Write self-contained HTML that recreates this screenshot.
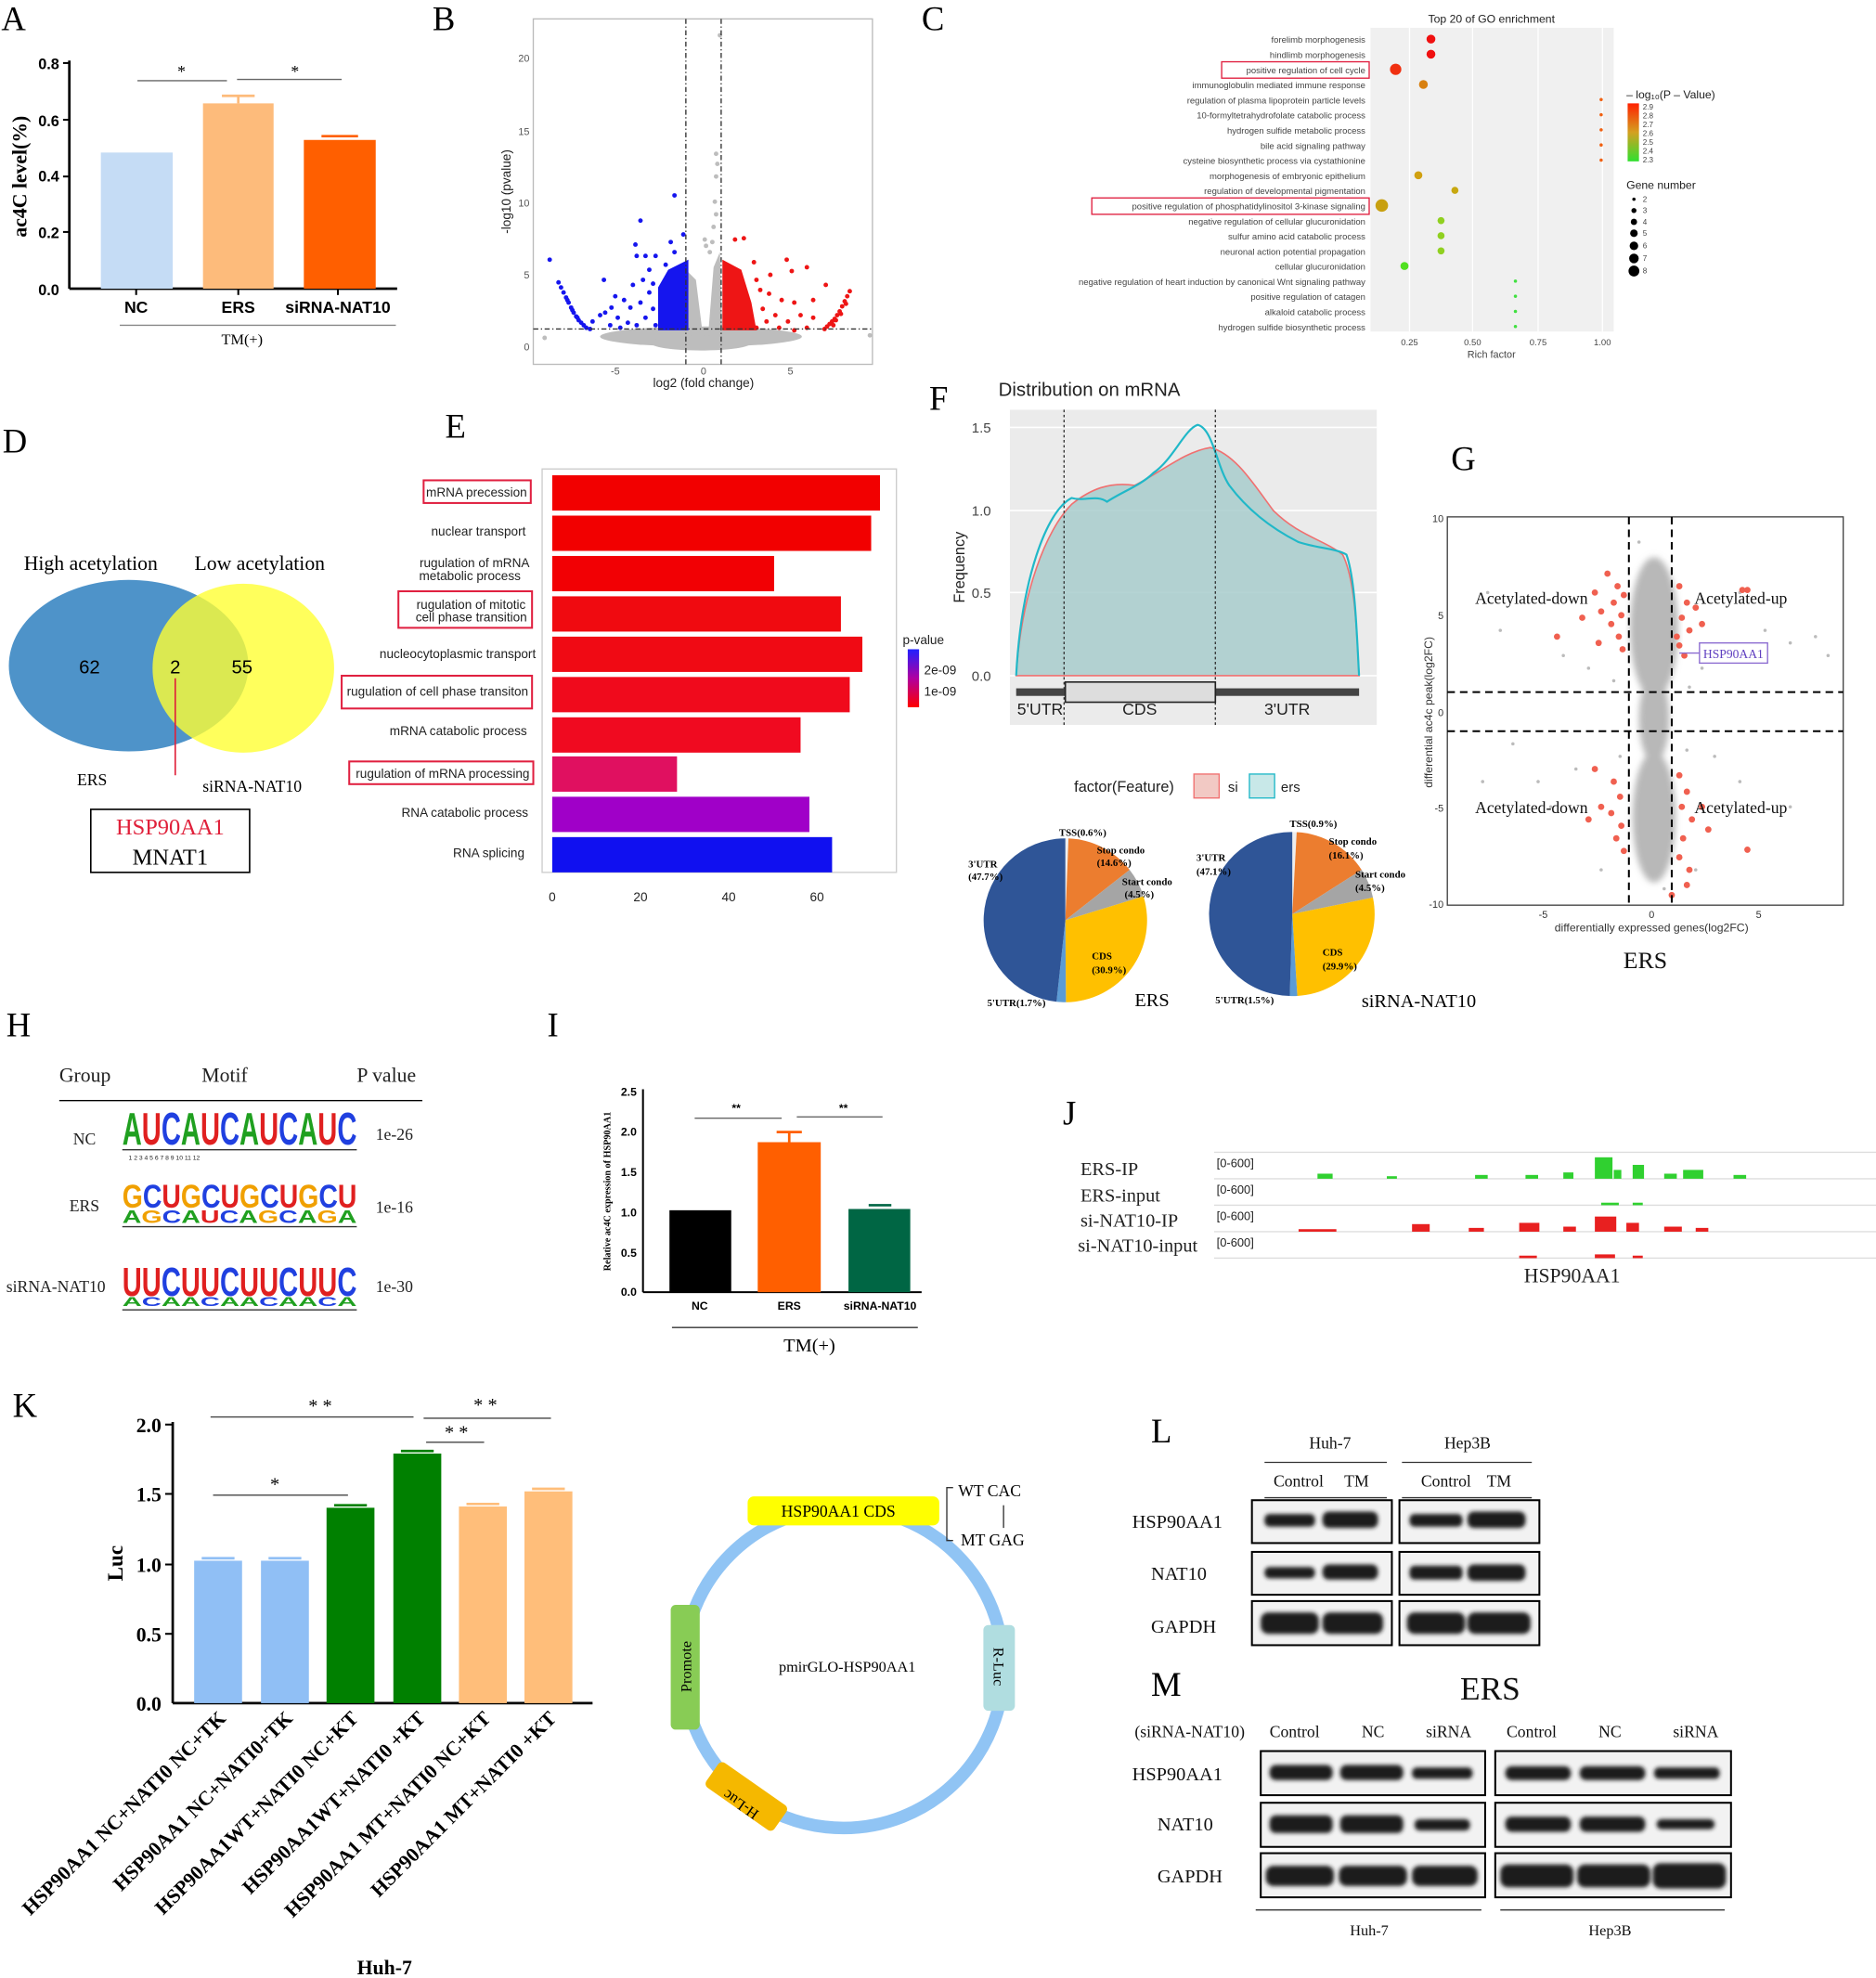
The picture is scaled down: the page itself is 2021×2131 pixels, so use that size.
<!DOCTYPE html>
<html><head><meta charset="utf-8"><style>
html,body{margin:0;padding:0;background:#fff;}
svg{display:block}
.s{font-family:"Liberation Serif",serif}
.a{font-family:"Liberation Sans",sans-serif}
</style></head><body>
<svg width="2021" height="2131" viewBox="0 0 1488 1569" xmlns="http://www.w3.org/2000/svg">
<defs>
<linearGradient id="gr" x1="0" y1="0" x2="0" y2="1"><stop offset="0" stop-color="#ff2000"/><stop offset="0.5" stop-color="#d4a020"/><stop offset="1" stop-color="#30e030"/></linearGradient>
<linearGradient id="gp" x1="0" y1="0" x2="0" y2="1"><stop offset="0" stop-color="#2020ff"/><stop offset="0.5" stop-color="#b000a0"/><stop offset="1" stop-color="#ff0000"/></linearGradient>
<filter id="bl"><feGaussianBlur stdDeviation="1.5"/></filter>
<filter id="bl2"><feGaussianBlur stdDeviation="2.5"/></filter>
</defs>
<rect width="1488" height="1569" fill="#fff"/>
<g class="s" font-size="27">
<text x="1" y="24">A</text><text x="343" y="24">B</text><text x="731" y="24">C</text>
<text x="2" y="359">D</text><text x="353" y="347">E</text><text x="737" y="325">F</text><text x="1151" y="373">G</text>
<text x="5" y="822">H</text><text x="434" y="822">I</text><text x="843" y="892">J</text>
<text x="10" y="1124">K</text><text x="913" y="1144">L</text><text x="913" y="1345">M</text>
</g>

<!-- A -->
<g>
<line x1="55" y1="48" x2="55" y2="229" stroke="#000" stroke-width="2"/>
<line x1="55" y1="229" x2="315" y2="229" stroke="#000" stroke-width="2"/>
<g stroke="#000" stroke-width="1.5"><line x1="50" y1="50" x2="55" y2="50"/><line x1="50" y1="95" x2="55" y2="95"/><line x1="50" y1="140" x2="55" y2="140"/><line x1="50" y1="184" x2="55" y2="184"/><line x1="108" y1="229" x2="108" y2="234"/><line x1="189" y1="229" x2="189" y2="234"/><line x1="268" y1="229" x2="268" y2="234"/></g>
<g class="a" font-size="12" font-weight="bold" text-anchor="end">
<text x="47" y="234">0.0</text><text x="47" y="189">0.2</text><text x="47" y="144">0.4</text><text x="47" y="100">0.6</text><text x="47" y="55">0.8</text></g>
<rect x="80" y="121" width="57" height="108" fill="#c5dcf5"/>
<rect x="161" y="82" width="56" height="147" fill="#fdbb7b"/>
<line x1="189" y1="82" x2="189" y2="76" stroke="#fdbb7b" stroke-width="2"/><line x1="176" y1="76" x2="202" y2="76" stroke="#fdbb7b" stroke-width="2"/>
<rect x="241" y="111" width="57" height="118" fill="#ff5f00"/>
<line x1="255" y1="108" x2="284" y2="108" stroke="#ff5f00" stroke-width="2"/>
<g class="a" font-size="13" font-weight="bold" text-anchor="middle"><text x="108" y="248">NC</text><text x="189" y="248">ERS</text><text x="268" y="248">siRNA-NAT10</text></g>
<line x1="95" y1="258" x2="314" y2="258" stroke="#888"/>
<text class="s" x="192" y="273" font-size="12" text-anchor="middle">TM(+)</text>
<line x1="109" y1="64" x2="180" y2="64" stroke="#666"/><line x1="188" y1="63" x2="271" y2="63" stroke="#666"/>
<text x="144" y="61" font-size="13" text-anchor="middle">*</text><text x="234" y="61" font-size="13" text-anchor="middle">*</text>
<text class="s" transform="translate(21,140) rotate(-90)" font-size="16" font-weight="bold" text-anchor="middle">ac4C level(%)</text>
</g>

<!-- B -->
<g class="a" font-size="8" fill="#555">
<rect x="423" y="15" width="269" height="274" fill="#fff" stroke="#bbb"/>
<g fill="#bdbdbd">
<ellipse cx="556" cy="267" rx="80" ry="8"/>
<ellipse cx="556" cy="272" rx="40" ry="6"/>
<path d="M544,264 L545,215 L552,222 L557,262 L562,262 L566,212 L571,200 L573,264 Z"/>
<circle cx="571" cy="28" r="1.8"/><circle cx="568" cy="122" r="1.8"/><circle cx="569" cy="130" r="1.8"/><circle cx="568" cy="140" r="1.8"/><circle cx="567" cy="160" r="1.8"/><circle cx="568" cy="170" r="1.8"/><circle cx="566" cy="180" r="1.8"/><circle cx="559" cy="190" r="1.8"/><circle cx="560" cy="195" r="1.8"/><circle cx="563" cy="200" r="1.8"/><circle cx="565" cy="192" r="1.8"/><circle cx="432" cy="268" r="1.8"/><circle cx="690" cy="266" r="1.8"/>
</g>
<path d="M522,262 L522,228 L530,214 L546,206 L546,262 Z" fill="#1515ee"/>
<path d="M573,206 L588,214 L596,240 L600,262 L573,262 Z" fill="#ee1515"/>
<g fill="#1515ee">
<circle cx="436" cy="206" r="1.8"/><circle cx="443" cy="224" r="1.8"/><circle cx="445" cy="228" r="1.8"/><circle cx="447" cy="232" r="1.8"/><circle cx="449" cy="236" r="1.8"/><circle cx="451" cy="240" r="1.8"/><circle cx="453" cy="244" r="1.8"/><circle cx="455" cy="248" r="1.8"/><circle cx="457" cy="251" r="1.8"/><circle cx="459" cy="254" r="1.8"/><circle cx="461" cy="256" r="1.8"/><circle cx="463" cy="258" r="1.8"/><circle cx="465" cy="260" r="1.8"/><circle cx="450" cy="238" r="1.8"/><circle cx="454" cy="246" r="1.8"/><circle cx="458" cy="252" r="1.8"/><circle cx="468" cy="261" r="1.8"/>
<circle cx="479" cy="222" r="1.8"/><circle cx="535" cy="155" r="1.8"/><circle cx="508" cy="175" r="1.8"/><circle cx="504" cy="194" r="1.8"/><circle cx="532" cy="192" r="1.8"/><circle cx="542" cy="186" r="1.8"/><circle cx="505" cy="203" r="1.8"/><circle cx="512" cy="203" r="1.8"/><circle cx="520" cy="203" r="1.8"/><circle cx="528" cy="210" r="1.8"/><circle cx="535" cy="200" r="1.8"/><circle cx="488" cy="235" r="1.8"/><circle cx="495" cy="238" r="1.8"/><circle cx="500" cy="244" r="1.8"/><circle cx="508" cy="240" r="1.8"/><circle cx="515" cy="232" r="1.8"/><circle cx="480" cy="248" r="1.8"/><circle cx="490" cy="252" r="1.8"/><circle cx="498" cy="256" r="1.8"/><circle cx="470" cy="255" r="1.8"/><circle cx="476" cy="250" r="1.8"/><circle cx="485" cy="244" r="1.8"/><circle cx="518" cy="225" r="1.8"/><circle cx="510" cy="222" r="1.8"/><circle cx="502" cy="226" r="1.8"/><circle cx="484" cy="258" r="1.8"/><circle cx="492" cy="260" r="1.8"/><circle cx="505" cy="258" r="1.8"/><circle cx="512" cy="252" r="1.8"/><circle cx="518" cy="245" r="1.8"/><circle cx="520" cy="258" r="1.8"/><circle cx="515" cy="214" r="1.8"/>
</g>
<g fill="#ee1515">
<circle cx="674" cy="231" r="1.8"/><circle cx="672" cy="235" r="1.8"/><circle cx="670" cy="239" r="1.8"/><circle cx="668" cy="243" r="1.8"/><circle cx="666" cy="247" r="1.8"/><circle cx="664" cy="250" r="1.8"/><circle cx="662" cy="253" r="1.8"/><circle cx="660" cy="255" r="1.8"/><circle cx="658" cy="257" r="1.8"/><circle cx="656" cy="259" r="1.8"/><circle cx="654" cy="261" r="1.8"/><circle cx="671" cy="241" r="1.8"/><circle cx="667" cy="249" r="1.8"/><circle cx="663" cy="254" r="1.8"/><circle cx="661" cy="258" r="1.8"/>
<circle cx="583" cy="190" r="1.8"/><circle cx="590" cy="189" r="1.8"/><circle cx="611" cy="218" r="1.8"/><circle cx="624" cy="206" r="1.8"/><circle cx="640" cy="212" r="1.8"/><circle cx="628" cy="215" r="1.8"/><circle cx="655" cy="226" r="1.8"/><circle cx="610" cy="233" r="1.8"/><circle cx="620" cy="238" r="1.8"/><circle cx="600" cy="222" r="1.8"/><circle cx="615" cy="250" r="1.8"/><circle cx="625" cy="255" r="1.8"/><circle cx="635" cy="250" r="1.8"/><circle cx="645" cy="252" r="1.8"/><circle cx="605" cy="245" r="1.8"/><circle cx="640" cy="260" r="1.8"/><circle cx="645" cy="238" r="1.8"/><circle cx="600" cy="260" r="1.8"/><circle cx="630" cy="262" r="1.8"/><circle cx="618" cy="260" r="1.8"/><circle cx="608" cy="255" r="1.8"/><circle cx="630" cy="240" r="1.8"/><circle cx="598" cy="208" r="1.8"/><circle cx="603" cy="230" r="1.8"/>
</g>
<line x1="544" y1="15" x2="544" y2="289" stroke="#333" stroke-dasharray="4,2,1,2"/>
<line x1="572" y1="15" x2="572" y2="289" stroke="#333" stroke-dasharray="4,2,1,2"/>
<line x1="423" y1="261" x2="692" y2="261" stroke="#333" stroke-dasharray="4,2,1,2"/>
<text x="420" y="49" text-anchor="end">20</text><text x="420" y="107" text-anchor="end">15</text><text x="420" y="164" text-anchor="end">10</text><text x="420" y="221" text-anchor="end">5</text><text x="420" y="278" text-anchor="end">0</text>
<text x="488" y="297" text-anchor="middle">-5</text><text x="558" y="297" text-anchor="middle">0</text><text x="627" y="297" text-anchor="middle">5</text>
<text x="558" y="307" text-anchor="middle" font-size="10" fill="#222">log2 (fold change)</text>
<text transform="translate(405,152) rotate(-90)" text-anchor="middle" font-size="10" fill="#222">-log10 (pvalue)</text>
</g>

<!-- C -->
<g class="a" font-size="7" fill="#444">
<rect x="1087" y="22" width="193" height="241" fill="#f0f0f0"/>
<g stroke="#fff"><line x1="1118" y1="22" x2="1118" y2="263"/><line x1="1168" y1="22" x2="1168" y2="263"/><line x1="1220" y1="22" x2="1220" y2="263"/><line x1="1271" y1="22" x2="1271" y2="263"/></g>
<text x="1183" y="18" text-anchor="middle" font-size="9" fill="#222">Top 20 of GO enrichment</text>
<g text-anchor="end">
<text x="1083" y="34">forelimb morphogenesis</text><text x="1083" y="46">hindlimb morphogenesis</text><text x="1083" y="58">positive regulation of cell cycle</text><text x="1083" y="70">immunoglobulin mediated immune response</text><text x="1083" y="82">regulation of plasma lipoprotein particle levels</text><text x="1083" y="94">10-formyltetrahydrofolate catabolic process</text><text x="1083" y="106">hydrogen sulfide metabolic process</text><text x="1083" y="118">bile acid signaling pathway</text><text x="1083" y="130">cysteine biosynthetic process via cystathionine</text><text x="1083" y="142">morphogenesis of embryonic epithelium</text><text x="1083" y="154">regulation of developmental pigmentation</text><text x="1083" y="166">positive regulation of phosphatidylinositol 3-kinase signaling</text><text x="1083" y="178">negative regulation of cellular glucuronidation</text><text x="1083" y="190">sulfur amino acid catabolic process</text><text x="1083" y="202">neuronal action potential propagation</text><text x="1083" y="214">cellular glucuronidation</text><text x="1083" y="226">negative regulation of heart induction by canonical Wnt signaling pathway</text><text x="1083" y="238">positive regulation of catagen</text><text x="1083" y="250">alkaloid catabolic process</text><text x="1083" y="262">hydrogen sulfide biosynthetic process</text>
</g>
<rect x="969" y="49" width="117" height="13" fill="none" stroke="#e02040"/>
<rect x="866" y="157" width="220" height="13" fill="none" stroke="#e02040"/>
<circle cx="1135" cy="31" r="3.5" fill="#f01010"/><circle cx="1135" cy="43" r="3.5" fill="#f01010"/><circle cx="1107" cy="55" r="4.5" fill="#f03010"/><circle cx="1129" cy="67" r="3.5" fill="#d88010"/>
<circle cx="1270" cy="79" r="1.3" fill="#f06010"/><circle cx="1270" cy="91" r="1.3" fill="#f06010"/><circle cx="1270" cy="103" r="1.3" fill="#f06010"/><circle cx="1270" cy="115" r="1.3" fill="#f06010"/><circle cx="1270" cy="127" r="1.3" fill="#f06010"/>
<circle cx="1125" cy="139" r="3.2" fill="#d0a010"/><circle cx="1154" cy="151" r="2.8" fill="#c8a810"/><circle cx="1096" cy="163" r="5" fill="#c8a010"/>
<circle cx="1143" cy="175" r="2.8" fill="#90d020"/><circle cx="1143" cy="187" r="2.8" fill="#90d020"/><circle cx="1143" cy="199" r="2.8" fill="#90d020"/><circle cx="1114" cy="211" r="3.2" fill="#50e020"/>
<circle cx="1202" cy="223" r="1.3" fill="#40e040"/><circle cx="1202" cy="235" r="1.3" fill="#40e040"/><circle cx="1202" cy="247" r="1.3" fill="#40e040"/><circle cx="1202" cy="259" r="1.3" fill="#40e040"/>
<text x="1118" y="274" text-anchor="middle">0.25</text><text x="1168" y="274" text-anchor="middle">0.50</text><text x="1220" y="274" text-anchor="middle">0.75</text><text x="1271" y="274" text-anchor="middle">1.00</text>
<text x="1183" y="284" text-anchor="middle" font-size="8">Rich factor</text>
<text x="1290" y="78" font-size="9" fill="#222">– log₁₀(P – Value)</text>
<rect x="1291" y="82" width="9" height="46" fill="url(#gr)"/>
<g font-size="6"><text x="1303" y="87">2.9</text><text x="1303" y="94">2.8</text><text x="1303" y="101">2.7</text><text x="1303" y="108">2.6</text><text x="1303" y="115">2.5</text><text x="1303" y="122">2.4</text><text x="1303" y="129">2.3</text></g>
<text x="1290" y="150" font-size="9" fill="#222">Gene number</text>
<g fill="#000"><circle cx="1296" cy="158" r="1.3"/><circle cx="1296" cy="167" r="2"/><circle cx="1296" cy="176" r="2.5"/><circle cx="1296" cy="185" r="3"/><circle cx="1296" cy="195" r="3.4"/><circle cx="1296" cy="205" r="3.8"/><circle cx="1296" cy="215" r="4.3"/></g>
<g font-size="6"><text x="1303" y="160">2</text><text x="1303" y="169">3</text><text x="1303" y="178">4</text><text x="1303" y="187">5</text><text x="1303" y="197">6</text><text x="1303" y="207">7</text><text x="1303" y="217">8</text></g>
</g>

<!-- D -->
<g class="s">
<ellipse cx="102" cy="528" rx="95" ry="68" fill="#4e93c9"/>
<ellipse cx="193" cy="530" rx="72" ry="67" fill="#ffff33" fill-opacity="0.8"/>
<text x="72" y="452" font-size="16" text-anchor="middle">High acetylation</text>
<text x="206" y="452" font-size="16" text-anchor="middle">Low acetylation</text>
<text class="a" x="71" y="534" font-size="15" text-anchor="middle">62</text>
<text class="a" x="139" y="534" font-size="15" text-anchor="middle">2</text>
<text class="a" x="192" y="534" font-size="15" text-anchor="middle">55</text>
<text x="73" y="623" font-size="13" text-anchor="middle">ERS</text>
<text x="200" y="628" font-size="13" text-anchor="middle">siRNA-NAT10</text>
<line x1="139" y1="538" x2="139" y2="615" stroke="#e0203a" stroke-width="1.2"/>
<rect x="72" y="642" width="126" height="50" fill="none" stroke="#000" stroke-width="1.2"/>
<text x="135" y="662" font-size="18" fill="#e0203a" text-anchor="middle">HSP90AA1</text>
<text x="135" y="686" font-size="18" text-anchor="middle">MNAT1</text>
</g>

<!-- E -->
<g class="a" font-size="10" fill="#222">
<rect x="430" y="372" width="281" height="320" fill="#fff" stroke="#ccc"/>
<rect x="438" y="377" width="260" height="28" fill="#f20000"/>
<rect x="438" y="409" width="253" height="28" fill="#f20000"/>
<rect x="438" y="441" width="176" height="28" fill="#f20004"/>
<rect x="438" y="473" width="229" height="28" fill="#f00a10"/>
<rect x="438" y="505" width="246" height="28" fill="#f00a14"/>
<rect x="438" y="537" width="236" height="28" fill="#f00a1c"/>
<rect x="438" y="569" width="197" height="28" fill="#f00a20"/>
<rect x="438" y="600" width="99" height="28" fill="#e01060"/>
<rect x="438" y="632" width="204" height="28" fill="#a000c8"/>
<rect x="438" y="664" width="222" height="28" fill="#1010f0"/>
<g text-anchor="end">
<text x="418" y="394">mRNA precession</text><text x="417" y="425">nuclear transport</text><text x="420" y="450">rugulation of mRNA</text><text x="413" y="460">metabolic process</text>
<text x="417" y="483">rugulation of mitotic</text><text x="418" y="493">cell phase transition</text><text x="425" y="522">nucleocytoplasmic transport</text>
<text x="419" y="552">rugulation of cell phase transiton</text><text x="418" y="583">mRNA catabolic process</text><text x="420" y="617">rugulation of mRNA processing</text>
<text x="419" y="648">RNA catabolic process</text><text x="416" y="680">RNA splicing</text></g>
<g fill="none" stroke="#e02040" stroke-width="1.5"><rect x="336" y="381" width="85" height="18"/><rect x="316" y="469" width="106" height="29"/><rect x="271" y="536" width="151" height="26"/><rect x="277" y="604" width="146" height="18"/></g>
<text x="438" y="715" text-anchor="middle">0</text><text x="508" y="715" text-anchor="middle">20</text><text x="578" y="715" text-anchor="middle">40</text><text x="648" y="715" text-anchor="middle">60</text>
<text x="716" y="511">p-value</text>
<rect x="720" y="515" width="9" height="46" fill="url(#gp)"/>
<text x="733" y="535">2e-09</text><text x="733" y="552">1e-09</text>
</g>

<!-- F -->
<g class="a" font-size="11" fill="#222">
<text x="792" y="314" font-size="15">Distribution on mRNA</text>
<rect x="801" y="325" width="291" height="250" fill="#ebebeb"/>
<g stroke="#fff" stroke-width="1.2"><line x1="801" y1="339" x2="1092" y2="339"/><line x1="801" y1="405" x2="1092" y2="405"/><line x1="801" y1="470" x2="1092" y2="470"/><line x1="801" y1="536" x2="1092" y2="536"/></g>
<path d="M806,536 C810,470 830,420 850,400 C865,388 880,382 900,385 C920,375 940,358 960,355 C980,360 995,385 1010,405 C1030,425 1050,428 1065,440 C1075,460 1076,500 1078,536 Z" fill="#a8cccc" fill-opacity="0.85" stroke="#f07070" stroke-width="1.2"/>
<path d="M806,536 C810,460 830,405 850,395 C860,398 870,392 878,398 C890,390 905,385 915,375 C930,365 940,340 950,337 C962,340 965,370 975,385 C990,405 1010,420 1030,430 C1045,435 1060,435 1068,440 C1075,460 1076,500 1078,536" fill="none" stroke="#20b8c8" stroke-width="1.6"/>
<line x1="844" y1="325" x2="844" y2="575" stroke="#333" stroke-dasharray="2,2"/>
<line x1="964" y1="325" x2="964" y2="575" stroke="#333" stroke-dasharray="2,2"/>
<rect x="806" y="546" width="272" height="6" fill="#444"/>
<rect x="845" y="541" width="119" height="16" fill="#ddd" stroke="#222" stroke-width="1.2"/>
<text x="825" y="567" font-size="13" text-anchor="middle">5'UTR</text><text x="904" y="567" font-size="13" text-anchor="middle">CDS</text><text x="1021" y="567" font-size="13" text-anchor="middle">3'UTR</text>
<g text-anchor="end" fill="#444"><text x="786" y="343">1.5</text><text x="786" y="409">1.0</text><text x="786" y="474">0.5</text><text x="786" y="540">0.0</text></g>
<text transform="translate(765,450) rotate(-90)" text-anchor="middle" font-size="12">Frequency</text>
<text x="852" y="628" font-size="12">factor(Feature)</text>
<rect x="947" y="614" width="20" height="19" fill="#f2c9c4" stroke="#f07070"/><text x="974" y="628">si</text>
<rect x="991" y="614" width="20" height="19" fill="#c8e8e8" stroke="#20b8c8"/><text x="1016" y="628">ers</text>
</g>
<!-- pies -->
<g>
<path d="M845,730 L845,665 A65,65 0 0 1 847.5,665.05 Z" fill="#eee"/>
<path d="M845,730 L847.5,665.05 A65,65 0 0 1 896,690 Z" fill="#ec7d2f"/>
<path d="M845,730 L896,690 A65,65 0 0 1 907,711 Z" fill="#a5a5a5"/>
<path d="M845,730 L907,711 A65,65 0 0 1 845.5,795 Z" fill="#ffc000"/>
<path d="M845,730 L845.5,795 A65,65 0 0 1 838,794.6 Z" fill="#5b9bd5"/>
<path d="M845,730 L838,794.6 A65,65 0 0 1 845,665 Z" fill="#2f5597"/>
<path d="M1025,725 L1025,660 A65,65 0 0 1 1028.5,660.1 Z" fill="#eee"/>
<path d="M1025,725 L1028.5,660.1 A65,65 0 0 1 1080,690 Z" fill="#ec7d2f"/>
<path d="M1025,725 L1080,690 A65,65 0 0 1 1089,712 Z" fill="#a5a5a5"/>
<path d="M1025,725 L1089,712 A65,65 0 0 1 1029,790 Z" fill="#ffc000"/>
<path d="M1025,725 L1029,790 A65,65 0 0 1 1023,790 Z" fill="#5b9bd5"/>
<path d="M1025,725 L1023,790 A65,65 0 0 1 1025,660 Z" fill="#2f5597"/>
<g class="s" font-size="8" font-weight="bold">
<text x="840" y="663">TSS(0.6%)</text><text x="870" y="677">Stop condo</text><text x="870" y="687">(14.6%)</text><text x="890" y="702">Start condo</text><text x="892" y="712">(4.5%)</text><text x="866" y="761">CDS</text><text x="866" y="772">(30.9%)</text><text x="768" y="688">3'UTR</text><text x="768" y="698">(47.7%)</text><text x="783" y="798">5'UTR(1.7%)</text>
<text x="1023" y="656">TSS(0.9%)</text><text x="1054" y="670">Stop condo</text><text x="1054" y="681">(16.1%)</text><text x="1075" y="696">Start condo</text><text x="1075" y="707">(4.5%)</text><text x="1049" y="758">CDS</text><text x="1049" y="769">(29.9%)</text><text x="949" y="683">3'UTR</text><text x="949" y="694">(47.1%)</text><text x="964" y="796">5'UTR(1.5%)</text>
</g>
</g>
<g class="s" font-size="15"><text x="900" y="798">ERS</text><text x="1080" y="799">siRNA-NAT10</text></g>

<!-- G -->
<g class="a" font-size="8" fill="#333">
<rect x="1148" y="410" width="314" height="308" fill="#fff" stroke="#444"/>
<g fill="#b8b8b8" filter="url(#bl2)">
<ellipse cx="1312" cy="498" rx="19" ry="56"/>
<ellipse cx="1312" cy="570" rx="12" ry="35"/>
<ellipse cx="1312" cy="648" rx="17" ry="52"/>
</g>
<g fill="#bbb"><circle cx="1190" cy="500" r="1.3"/><circle cx="1200" cy="590" r="1.3"/><circle cx="1220" cy="620" r="1.3"/><circle cx="1240" cy="520" r="1.3"/><circle cx="1400" cy="500" r="1.3"/><circle cx="1420" cy="510" r="1.3"/><circle cx="1440" cy="505" r="1.3"/><circle cx="1380" cy="620" r="1.3"/><circle cx="1360" cy="600" r="1.3"/><circle cx="1250" cy="610" r="1.3"/><circle cx="1380" cy="470" r="1.3"/><circle cx="1230" cy="640" r="1.3"/><circle cx="1420" cy="640" r="1.3"/><circle cx="1260" cy="530" r="1.3"/><circle cx="1350" cy="530" r="1.3"/><circle cx="1270" cy="690" r="1.3"/><circle cx="1345" cy="690" r="1.3"/><circle cx="1280" cy="540" r="1.3"/><circle cx="1340" cy="545" r="1.3"/><circle cx="1285" cy="600" r="1.3"/><circle cx="1338" cy="595" r="1.3"/><circle cx="1180" cy="470" r="1.3"/><circle cx="1450" cy="520" r="1.3"/><circle cx="1176" cy="620" r="1.3"/><circle cx="1300" cy="430" r="1.3"/><circle cx="1320" cy="705" r="1.3"/></g>
<g fill="#f06050">
<circle cx="1275" cy="455" r="2.5"/><circle cx="1283" cy="465" r="2.5"/><circle cx="1280" cy="478" r="2.5"/><circle cx="1286" cy="488" r="2.5"/><circle cx="1278" cy="495" r="2.5"/><circle cx="1284" cy="505" r="2.5"/><circle cx="1270" cy="485" r="2.5"/><circle cx="1288" cy="472" r="2.5"/><circle cx="1265" cy="470" r="2.5"/><circle cx="1235" cy="505" r="2.5"/><circle cx="1255" cy="490" r="2.5"/><circle cx="1287" cy="515" r="2.5"/><circle cx="1268" cy="510" r="2.5"/>
<circle cx="1332" cy="465" r="2.5"/><circle cx="1338" cy="478" r="2.5"/><circle cx="1334" cy="490" r="2.5"/><circle cx="1340" cy="500" r="2.5"/><circle cx="1332" cy="512" r="2.5"/><circle cx="1345" cy="482" r="2.5"/><circle cx="1382" cy="468" r="2.5"/><circle cx="1386" cy="468" r="2.5"/><circle cx="1350" cy="495" r="2.5"/><circle cx="1336" cy="520" r="2.5"/><circle cx="1330" cy="505" r="2.5"/>
<circle cx="1280" cy="620" r="2.5"/><circle cx="1285" cy="632" r="2.5"/><circle cx="1278" cy="645" r="2.5"/><circle cx="1286" cy="655" r="2.5"/><circle cx="1282" cy="665" r="2.5"/><circle cx="1270" cy="640" r="2.5"/><circle cx="1288" cy="675" r="2.5"/><circle cx="1260" cy="650" r="2.5"/><circle cx="1265" cy="610" r="2.5"/>
<circle cx="1332" cy="615" r="2.5"/><circle cx="1338" cy="628" r="2.5"/><circle cx="1334" cy="640" r="2.5"/><circle cx="1342" cy="650" r="2.5"/><circle cx="1335" cy="665" r="2.5"/><circle cx="1350" cy="640" r="2.5"/><circle cx="1355" cy="658" r="2.5"/><circle cx="1340" cy="690" r="2.5"/><circle cx="1338" cy="702" r="2.5"/><circle cx="1386" cy="674" r="2.5"/><circle cx="1332" cy="680" r="2.5"/><circle cx="1326" cy="710" r="2.5"/>
</g>
<line x1="1292" y1="410" x2="1292" y2="718" stroke="#000" stroke-width="1.5" stroke-dasharray="6,4"/>
<line x1="1326" y1="410" x2="1326" y2="718" stroke="#000" stroke-width="1.5" stroke-dasharray="6,4"/>
<line x1="1148" y1="549" x2="1462" y2="549" stroke="#000" stroke-width="1.5" stroke-dasharray="6,4"/>
<line x1="1148" y1="580" x2="1462" y2="580" stroke="#000" stroke-width="1.5" stroke-dasharray="6,4"/>
<g class="s" font-size="13" fill="#111"><text x="1170" y="479">Acetylated-down</text><text x="1344" y="479">Acetylated-up</text><text x="1170" y="645">Acetylated-down</text><text x="1344" y="645">Acetylated-up</text></g>
<rect x="1348" y="510" width="54" height="16" fill="#fff" stroke="#8a6ad0"/><line x1="1332" y1="518" x2="1348" y2="518" stroke="#8a6ad0"/>
<text class="s" x="1351" y="522" font-size="10" fill="#6040c0">HSP90AA1</text>
<g text-anchor="end"><text x="1145" y="414">10</text><text x="1145" y="491">5</text><text x="1145" y="568">0</text><text x="1145" y="644">-5</text><text x="1145" y="720">-10</text></g>
<text x="1224" y="728" text-anchor="middle">-5</text><text x="1310" y="728" text-anchor="middle">0</text><text x="1395" y="728" text-anchor="middle">5</text>
<text x="1310" y="739" text-anchor="middle" font-size="9">differentially expressed genes(log2FC)</text>
<text transform="translate(1136,565) rotate(-90)" text-anchor="middle" font-size="9">differential ac4c peak(log2FC)</text>
<text class="s" x="1305" y="768" text-anchor="middle" font-size="19" fill="#111">ERS</text>
</g>

<!-- H -->
<g class="s" fill="#222">
<g font-size="16"><text x="47" y="858">Group</text><text x="160" y="858">Motif</text><text x="283" y="858">P value</text></g>
<line x1="47" y1="873" x2="335" y2="873" stroke="#000"/>
<g font-size="13"><text x="58" y="908">NC</text><text x="55" y="961">ERS</text><text x="5" y="1025">siRNA-NAT10</text>
<text x="298" y="904">1e-26</text><text x="298" y="962">1e-16</text><text x="298" y="1025">1e-30</text></g>
<g class="a" font-weight="bold" font-size="36">
<text x="97" y="908" textLength="186" lengthAdjust="spacingAndGlyphs"><tspan fill="#20a020">A</tspan><tspan fill="#e02020">U</tspan><tspan fill="#2040e0">C</tspan><tspan fill="#20a020">A</tspan><tspan fill="#e02020">U</tspan><tspan fill="#2040e0">C</tspan><tspan fill="#20a020">A</tspan><tspan fill="#e02020">U</tspan><tspan fill="#2040e0">C</tspan><tspan fill="#20a020">A</tspan><tspan fill="#e02020">U</tspan><tspan fill="#2040e0">C</tspan></text>
<text x="97" y="958" textLength="186" lengthAdjust="spacingAndGlyphs" font-size="26"><tspan fill="#f0a000">G</tspan><tspan fill="#2040e0">C</tspan><tspan fill="#e02020">U</tspan><tspan fill="#f0a000">G</tspan><tspan fill="#2040e0">C</tspan><tspan fill="#e02020">U</tspan><tspan fill="#f0a000">G</tspan><tspan fill="#2040e0">C</tspan><tspan fill="#e02020">U</tspan><tspan fill="#f0a000">G</tspan><tspan fill="#2040e0">C</tspan><tspan fill="#e02020">U</tspan></text>
<text x="97" y="970" textLength="186" lengthAdjust="spacingAndGlyphs" font-size="14"><tspan fill="#20a020">A</tspan><tspan fill="#f0a000">G</tspan><tspan fill="#2040e0">C</tspan><tspan fill="#20a020">A</tspan><tspan fill="#e02020">U</tspan><tspan fill="#2040e0">C</tspan><tspan fill="#20a020">A</tspan><tspan fill="#f0a000">G</tspan><tspan fill="#2040e0">C</tspan><tspan fill="#20a020">A</tspan><tspan fill="#f0a000">G</tspan><tspan fill="#20a020">A</tspan></text>
<text x="97" y="1028" textLength="186" lengthAdjust="spacingAndGlyphs" font-size="32"><tspan fill="#e02020">U</tspan><tspan fill="#e02020">U</tspan><tspan fill="#2040e0">C</tspan><tspan fill="#e02020">U</tspan><tspan fill="#e02020">U</tspan><tspan fill="#2040e0">C</tspan><tspan fill="#e02020">U</tspan><tspan fill="#e02020">U</tspan><tspan fill="#2040e0">C</tspan><tspan fill="#e02020">U</tspan><tspan fill="#e02020">U</tspan><tspan fill="#2040e0">C</tspan></text>
<text x="97" y="1036" textLength="186" lengthAdjust="spacingAndGlyphs" font-size="10"><tspan fill="#20a020">A</tspan><tspan fill="#2040e0">C</tspan><tspan fill="#20a020">A</tspan><tspan fill="#20a020">A</tspan><tspan fill="#2040e0">C</tspan><tspan fill="#20a020">A</tspan><tspan fill="#20a020">A</tspan><tspan fill="#2040e0">C</tspan><tspan fill="#20a020">A</tspan><tspan fill="#20a020">A</tspan><tspan fill="#2040e0">C</tspan><tspan fill="#20a020">A</tspan></text>
</g>
<g stroke="#333"><line x1="97" y1="912" x2="283" y2="912"/><line x1="97" y1="973" x2="283" y2="973"/><line x1="97" y1="1039" x2="283" y2="1039"/></g>
<g class="a" font-size="5"><text x="102" y="920">1  2  3  4  5  6  7  8  9  10  11  12</text></g>
</g>

<!-- I -->
<g class="a" font-size="9" font-weight="bold">
<line x1="510" y1="864" x2="510" y2="1025" stroke="#000" stroke-width="1.5"/>
<line x1="510" y1="1025" x2="731" y2="1025" stroke="#000" stroke-width="1.5"/>
<g text-anchor="end"><text x="505" y="1028">0.0</text><text x="505" y="997">0.5</text><text x="505" y="965">1.0</text><text x="505" y="933">1.5</text><text x="505" y="901">2.0</text><text x="505" y="869">2.5</text></g>
<rect x="531" y="960" width="49" height="65" fill="#000"/>
<rect x="601" y="906" width="50" height="119" fill="#ff5f00"/>
<line x1="626" y1="906" x2="626" y2="898" stroke="#ff5f00" stroke-width="2"/><line x1="616" y1="898" x2="636" y2="898" stroke="#ff5f00" stroke-width="2"/>
<rect x="673" y="959" width="49" height="66" fill="#006644"/>
<line x1="689" y1="956" x2="707" y2="956" stroke="#006644" stroke-width="2"/>
<text x="555" y="1039" text-anchor="middle">NC</text><text x="626" y="1039" text-anchor="middle">ERS</text><text x="698" y="1039" text-anchor="middle">siRNA-NAT10</text>
<line x1="533" y1="1053" x2="728" y2="1053" stroke="#333"/>
<text class="s" x="642" y="1072" text-anchor="middle" font-size="15" font-weight="normal">TM(+)</text>
<line x1="551" y1="887" x2="620" y2="887" stroke="#666"/><line x1="632" y1="886" x2="700" y2="886" stroke="#666"/>
<text x="584" y="882" text-anchor="middle">**</text><text x="669" y="882" text-anchor="middle">**</text>
<text class="s" transform="translate(484,945) rotate(-90)" text-anchor="middle" font-size="7.5">Relative ac4C expression of HSP90AA1</text>
</g>

<!-- J -->
<g class="s" font-size="15" fill="#222">
<text x="857" y="932">ERS-IP</text><text x="857" y="953">ERS-input</text><text x="857" y="973">si-NAT10-IP</text><text x="855" y="993">si-NAT10-input</text>
<g class="a" font-size="9.5"><text x="965" y="926">[0-600]</text><text x="965" y="947">[0-600]</text><text x="965" y="968">[0-600]</text><text x="965" y="989">[0-600]</text></g>
<g stroke="#ddd"><line x1="963" y1="914" x2="1488" y2="914"/><line x1="963" y1="935" x2="1488" y2="935"/><line x1="963" y1="956" x2="1488" y2="956"/><line x1="963" y1="977" x2="1488" y2="977"/><line x1="963" y1="998" x2="1488" y2="998"/></g>
<g fill="#30d030"><rect x="1045" y="931" width="12" height="4"/><rect x="1100" y="933" width="8" height="2"/><rect x="1170" y="932" width="10" height="3"/><rect x="1210" y="932" width="10" height="3"/><rect x="1240" y="930" width="8" height="5"/><rect x="1265" y="918" width="14" height="17"/><rect x="1280" y="928" width="6" height="7"/><rect x="1295" y="924" width="9" height="11"/><rect x="1320" y="931" width="10" height="4"/><rect x="1335" y="928" width="16" height="7"/><rect x="1375" y="932" width="10" height="3"/>
<rect x="1270" y="954" width="14" height="2"/><rect x="1295" y="954" width="8" height="2"/></g>
<g fill="#e82020"><rect x="1030" y="975" width="30" height="2"/><rect x="1120" y="971" width="14" height="6"/><rect x="1165" y="974" width="12" height="3"/><rect x="1205" y="970" width="16" height="7"/><rect x="1240" y="973" width="10" height="4"/><rect x="1265" y="965" width="17" height="12"/><rect x="1290" y="970" width="10" height="7"/><rect x="1320" y="973" width="14" height="4"/><rect x="1345" y="974" width="10" height="3"/>
<rect x="1205" y="996" width="14" height="2"/><rect x="1265" y="995" width="16" height="3"/><rect x="1295" y="996" width="8" height="2"/></g>
<text x="1247" y="1017" text-anchor="middle" font-size="16">HSP90AA1</text>
</g>

<!-- K -->
<g>
<line x1="137" y1="1128" x2="137" y2="1351" stroke="#000" stroke-width="2"/>
<line x1="137" y1="1351" x2="470" y2="1351" stroke="#000" stroke-width="2"/>
<g stroke="#000" stroke-width="1.5"><line x1="131" y1="1130" x2="137" y2="1130"/><line x1="131" y1="1185" x2="137" y2="1185"/><line x1="131" y1="1241" x2="137" y2="1241"/><line x1="131" y1="1296" x2="137" y2="1296"/></g>
<g class="s" font-size="16" font-weight="bold" text-anchor="end"><text x="128" y="1136">2.0</text><text x="128" y="1191">1.5</text><text x="128" y="1247">1.0</text><text x="128" y="1302">0.5</text><text x="128" y="1357">0.0</text></g>
<text class="s" transform="translate(97,1240) rotate(-90)" text-anchor="middle" font-size="17" font-weight="bold">Luc</text>
<rect x="154" y="1238" width="38" height="113" fill="#90bff5"/><line x1="160" y1="1236" x2="186" y2="1236" stroke="#90bff5" stroke-width="2"/>
<rect x="207" y="1238" width="38" height="113" fill="#90bff5"/><line x1="213" y1="1236" x2="239" y2="1236" stroke="#90bff5" stroke-width="2"/>
<rect x="259" y="1196" width="38" height="155" fill="#008000"/><line x1="265" y1="1194" x2="291" y2="1194" stroke="#008000" stroke-width="2"/>
<rect x="312" y="1153" width="38" height="198" fill="#008000"/><line x1="318" y1="1151" x2="344" y2="1151" stroke="#008000" stroke-width="2"/>
<rect x="364" y="1195" width="38" height="156" fill="#ffbe7a"/><line x1="370" y1="1193" x2="396" y2="1193" stroke="#ffbe7a" stroke-width="2"/>
<rect x="416" y="1183" width="38" height="168" fill="#ffbe7a"/><line x1="422" y1="1181" x2="448" y2="1181" stroke="#ffbe7a" stroke-width="2"/>
<g class="s" font-size="16" font-weight="bold" text-anchor="end">
<text transform="translate(180,1364) rotate(-45)">HSP90AA1 NC+NATI0 NC+TK</text>
<text transform="translate(233,1364) rotate(-45)">HSP90AA1 NC+NATI0+TK</text>
<text transform="translate(285,1364) rotate(-45)">HSP90AA1WT+NATI0 NC+KT</text>
<text transform="translate(338,1364) rotate(-45)">HSP90AA1WT+NATI0 +KT</text>
<text transform="translate(390,1364) rotate(-45)">HSP90AA1 MT+NATI0 NC+KT</text>
<text transform="translate(442,1364) rotate(-45)">HSP90AA1 MT+NATI0 +KT</text>
</g>
<text class="s" x="305" y="1566" text-anchor="middle" font-size="16" font-weight="bold">Huh-7</text>
<g stroke="#444" fill="none"><line x1="167" y1="1124" x2="328" y2="1124"/><line x1="169" y1="1186" x2="276" y2="1186"/><line x1="338" y1="1144" x2="384" y2="1144"/><line x1="336" y1="1125" x2="437" y2="1125"/></g>
<g class="s" font-size="15" text-anchor="middle"><text x="254" y="1120">* *</text><text x="218" y="1182">*</text><text x="362" y="1141">* *</text><text x="385" y="1119">* *</text></g>
</g>

<!-- plasmid -->
<g class="s">
<circle cx="669" cy="1323" r="127" fill="none" stroke="#90c4f4" stroke-width="10"/>
<rect x="593" y="1187" width="152" height="23" rx="5" fill="#ffff00"/>
<text x="665" y="1203" text-anchor="middle" font-size="13">HSP90AA1  CDS</text>
<rect x="532" y="1273" width="23" height="99" rx="4" fill="#88cc55"/>
<text transform="translate(548,1322) rotate(-90)" text-anchor="middle" font-size="12">Promote</text>
<rect x="780" y="1289" width="25" height="68" rx="4" fill="#b0dde0"/>
<text transform="translate(788,1322) rotate(90)" text-anchor="middle" font-size="12">R-Luc</text>
<g transform="translate(592,1425) rotate(35)"><rect x="-33" y="-12" width="66" height="24" rx="4" fill="#f5b800"/><text x="0" y="-4" text-anchor="middle" font-size="12" transform="rotate(180)">H-Luc</text></g>
<text x="672" y="1326" text-anchor="middle" font-size="12">pmirGLO-HSP90AA1</text>
<path d="M756,1180 L751,1180 L751,1222 L756,1222" fill="none" stroke="#333"/>
<text x="760" y="1187" font-size="13">WT   CAC</text><text x="762" y="1226" font-size="13">MT   GAG</text>
<line x1="796" y1="1194" x2="796" y2="1212" stroke="#333"/>
</g>

<!-- L -->
<g class="s" fill="#111">
<g font-size="13"><text x="1055" y="1149" text-anchor="middle">Huh-7</text><text x="1164" y="1149" text-anchor="middle">Hep3B</text>
<text x="1030" y="1179" text-anchor="middle">Control</text><text x="1076" y="1179" text-anchor="middle">TM</text><text x="1147" y="1179" text-anchor="middle">Control</text><text x="1189" y="1179" text-anchor="middle">TM</text></g>
<g stroke="#333"><line x1="1003" y1="1160" x2="1100" y2="1160"/><line x1="1112" y1="1160" x2="1215" y2="1160"/><line x1="1003" y1="1188" x2="1100" y2="1188"/><line x1="1112" y1="1188" x2="1215" y2="1188"/></g>
<g font-size="15"><text x="898" y="1212">HSP90AA1</text><text x="913" y="1253">NAT10</text><text x="913" y="1295">GAPDH</text></g>
<g fill="#f2f2f2" stroke="#000" stroke-width="1.5"><rect x="993" y="1190" width="111" height="34"/><rect x="1110" y="1190" width="111" height="34"/><rect x="993" y="1231" width="111" height="34"/><rect x="1110" y="1231" width="111" height="34"/><rect x="993" y="1270" width="111" height="35"/><rect x="1110" y="1270" width="111" height="35"/></g>
<g fill="#1a1a1a" filter="url(#bl)">
<rect x="1003" y="1201" width="40" height="10" rx="4"/><rect x="1049" y="1199" width="44" height="13" rx="5"/><rect x="1118" y="1201" width="42" height="10" rx="4"/><rect x="1164" y="1199" width="46" height="13" rx="5"/>
<rect x="1003" y="1243" width="40" height="9" rx="4"/><rect x="1049" y="1241" width="44" height="12" rx="5"/><rect x="1118" y="1242" width="42" height="11" rx="4"/><rect x="1164" y="1241" width="46" height="13" rx="5"/>
<rect x="1000" y="1279" width="46" height="17" rx="6"/><rect x="1049" y="1279" width="48" height="17" rx="6"/><rect x="1116" y="1279" width="46" height="17" rx="6"/><rect x="1164" y="1279" width="50" height="17" rx="6"/>
</g>
</g>

<!-- M -->
<g class="s" fill="#111">
<text x="1182" y="1348" text-anchor="middle" font-size="26">ERS</text>
<g font-size="13"><text x="900" y="1378">(siRNA-NAT10)</text><text x="1007" y="1378">Control</text><text x="1080" y="1378">NC</text><text x="1131" y="1378">siRNA</text><text x="1195" y="1378">Control</text><text x="1268" y="1378">NC</text><text x="1327" y="1378">siRNA</text></g>
<g font-size="15"><text x="898" y="1412">HSP90AA1</text><text x="918" y="1452">NAT10</text><text x="918" y="1493">GAPDH</text></g>
<g fill="#f2f2f2" stroke="#000" stroke-width="1.5"><rect x="1000" y="1389" width="178" height="35"/><rect x="1186" y="1389" width="187" height="35"/><rect x="1000" y="1430" width="178" height="35"/><rect x="1186" y="1430" width="187" height="35"/><rect x="1000" y="1470" width="178" height="35"/><rect x="1186" y="1470" width="187" height="35"/></g>
<g fill="#1a1a1a" filter="url(#bl)">
<rect x="1007" y="1400" width="50" height="12" rx="5"/><rect x="1063" y="1400" width="50" height="12" rx="5"/><rect x="1120" y="1402" width="48" height="9" rx="4"/>
<rect x="1194" y="1401" width="52" height="11" rx="5"/><rect x="1253" y="1401" width="52" height="11" rx="5"/><rect x="1312" y="1402" width="52" height="9" rx="4"/>
<rect x="1007" y="1440" width="50" height="14" rx="5"/><rect x="1063" y="1440" width="50" height="14" rx="5"/><rect x="1122" y="1443" width="44" height="9" rx="4"/>
<rect x="1194" y="1441" width="52" height="12" rx="5"/><rect x="1253" y="1441" width="52" height="12" rx="5"/><rect x="1314" y="1443" width="46" height="8" rx="4"/>
<rect x="1004" y="1480" width="54" height="16" rx="6"/><rect x="1062" y="1480" width="54" height="16" rx="6"/><rect x="1120" y="1480" width="52" height="16" rx="6"/>
<rect x="1190" y="1479" width="58" height="18" rx="6"/><rect x="1251" y="1479" width="58" height="18" rx="6"/><rect x="1311" y="1478" width="58" height="20" rx="6"/>
</g>
<g stroke="#333"><line x1="996" y1="1515" x2="1175" y2="1515"/><line x1="1190" y1="1515" x2="1368" y2="1515"/></g>
<g font-size="12"><text x="1086" y="1535" text-anchor="middle">Huh-7</text><text x="1277" y="1535" text-anchor="middle">Hep3B</text></g>
</g>
</svg>
</body></html>
